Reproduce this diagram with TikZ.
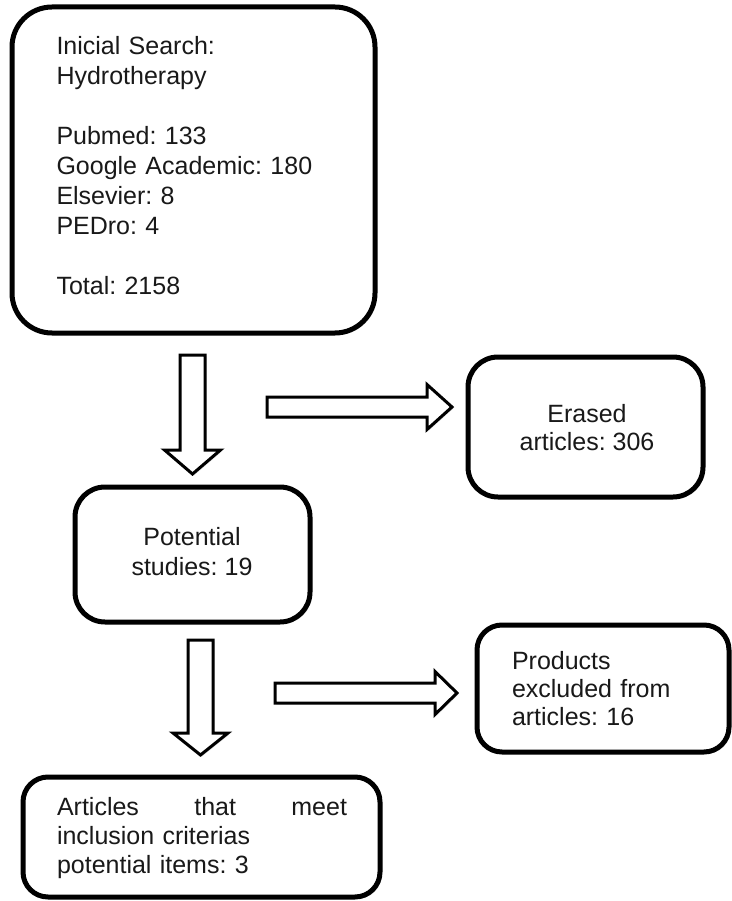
\documentclass[tikz,border=0pt]{standalone}
\usepackage{fontspec}
\setmainfont{Liberation Sans}
\usetikzlibrary{shadows}
\tikzset{
  box/.style={draw=black, line width=5pt, fill=white,
    drop shadow={opacity=0.25, shadow xshift=2pt, shadow yshift=-2pt},
    inner sep=0pt},
  blockarrow/.style={draw=black, line width=3pt, fill=white, line join=miter,
    drop shadow={opacity=0.2, shadow xshift=1.5pt, shadow yshift=-1.5pt}},
  txt/.style={font=\fontsize{25}{30}\selectfont\frenchspacing, text=black!90}
}
\newcommand\vblockarrow[5]{% start, tip, shaft half, head half, head length
  \draw[blockarrow] ([xshift=-#3pt]#1) -- ([xshift=#3pt]#1) -- ([xshift=#3pt,yshift=#5pt]#2)
    -- ([xshift=#4pt,yshift=#5pt]#2) -- (#2) -- ([xshift=-#4pt,yshift=#5pt]#2)
    -- ([xshift=-#3pt,yshift=#5pt]#2) -- cycle;}
\newcommand\hblockarrow[5]{%
  \draw[blockarrow] ([yshift=#3pt]#1) -- ([xshift=-#5pt,yshift=#3pt]#2)
    -- ([xshift=-#5pt,yshift=#4pt]#2) -- (#2) -- ([xshift=-#5pt,yshift=-#4pt]#2)
    -- ([xshift=-#5pt,yshift=-#3pt]#2) -- ([yshift=-#3pt]#1) -- cycle;}
\begin{document}
\begin{tikzpicture}[x=1pt,y=-1pt]
\useasboundingbox[fill=white] (0,0) rectangle (731,901);

\node[box, rounded corners=40pt, minimum width=363pt, minimum height=326pt] (search) at (193.5,170) {};
\node[txt, align=left, text width=275pt, anchor=center] (searchtxt) at (194,166)
  {Inicial Search:\\Hydrotherapy\\[30pt]Pubmed: 133\\Google Academic: 180\\Elsevier: 8\\PEDro: 4\\[30pt]Total: 2158};

\node[box, rounded corners=30pt, minimum width=235pt, minimum height=140pt] (erased) at (585.5,427) {};
\node[txt, font=\fontsize{25}{28}\selectfont\frenchspacing, align=center] (erasedtxt) at (587,428) {Erased\\articles: 306};

\node[box, rounded corners=30pt, minimum width=235pt, minimum height=135pt] (potential) at (192.5,554.5) {};
\node[txt, align=center] (potentialtxt) at (192,552) {Potential\\studies: 19};

\node[box, rounded corners=25pt, minimum width=252pt, minimum height=127pt] (products) at (603,688.5) {};
\node[txt, font=\fontsize{25}{28}\selectfont\frenchspacing, align=left, text width=182pt] (productstxt) at (603,689) {Products\\excluded from\\articles: 16};

\node[box, rounded corners=25pt, minimum width=357pt, minimum height=120pt] (articles) at (201.5,837) {};
\node[txt, font=\fontsize{25}{29}\selectfont\frenchspacing, align=left, text width=290pt] (articlestxt) at (202,838)
  {\hbox to 290pt{Articles\hfill that\hfill meet}\\inclusion criterias\\potential items: 3};

\coordinate (a1s) at (192.5,355); \coordinate (a1t) at (192.5,474);
\coordinate (a2s) at (267,407);   \coordinate (a2t) at (452,407);
\coordinate (a3s) at (200.5,640); \coordinate (a3t) at (200.5,755);
\coordinate (a4s) at (275,693);   \coordinate (a4t) at (457,693);

\vblockarrow{a1s}{a1t}{12.5}{28}{24}
\hblockarrow{a2s}{a2t}{10}{22.5}{25}
\vblockarrow{a3s}{a3t}{12.5}{27.5}{22}
\hblockarrow{a4s}{a4t}{10}{21.5}{22}
\end{tikzpicture}
\end{document}
